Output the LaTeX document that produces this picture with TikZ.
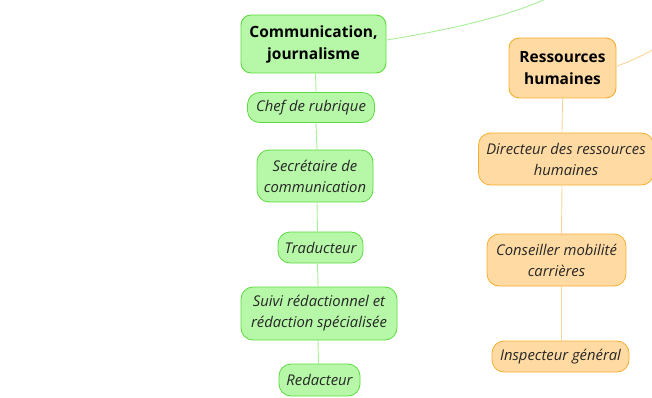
\documentclass[tikz,border=0pt]{standalone}
\usepackage{fontspec}
\setmainfont{Open Sans}
\usetikzlibrary{calc}
\definecolor{jfill}{HTML}{B6F7A8}
\definecolor{jline}{HTML}{5CDB3F}
\definecolor{jlink}{HTML}{A9EE98}
\definecolor{rfill}{HTML}{FFDBA3}
\definecolor{rline}{HTML}{F6AD2F}
\definecolor{rlink}{HTML}{FBD49A}
\tikzset{
  topic/.style={draw, line width=0.9pt, rounded corners=10pt, font=\fontsize{15.5}{22}\selectfont\bfseries, text=black, align=center, inner sep=0pt},
  job/.style={draw, line width=0.8pt, rounded corners=12pt, font=\fontsize{14.8}{21}\selectfont\itshape, text=black!85, align=center, inner sep=0pt},
  green/.style={fill=jfill, draw=jline},
  orange/.style={fill=rfill, draw=rline},
  glink/.style={draw=jlink, line width=0.9pt},
  rlinkst/.style={draw=rlink, line width=0.9pt}
}
\begin{document}
\begin{tikzpicture}[x=1pt,y=-1pt]
  \useasboundingbox (0,0) rectangle (652,398);
  % journalisme
  \node[topic, green, minimum width=145, minimum height=58] (com) at (313.5,44) {Communication,\\journalisme};
  \node[job, green, minimum width=127, minimum height=30] (chef) at (311,107.5) {Chef de rubrique};
  \node[job, green, minimum width=116, minimum height=52] (secr) at (315,176) {Secrétaire de\\communication};
  \node[job, green, minimum width=85, minimum height=31] (trad) at (320.5,247.5) {Traducteur};
  \node[job, green, minimum width=156, minimum height=53] (suivi) at (319,313.5) {Suivi rédactionnel et\\rédaction spécialisée};
  \node[job, green, minimum width=81, minimum height=32] (redac) at (319.5,380) {Redacteur};
  % ressources humaines
  \node[topic, orange, minimum width=107, minimum height=60] (rh) at (562.5,68) {Ressources\\humaines};
  \node[job, orange, minimum width=175, minimum height=52] (dir) at (566,159) {Directeur des ressources\\humaines};
  \node[job, orange, minimum width=139, minimum height=52] (cons) at (556.5,260) {Conseiller mobilité\\carrières};
  \node[job, orange, minimum width=137, minimum height=31] (insp) at (560.5,356.5) {Inspecteur général};
  \coordinate (gout) at (548,-2);
  \coordinate (rout) at (656,48);
  % links
  \draw[glink] (com.east) ++(0,-4) .. controls (430,33) and (500,20) .. (gout);
  \draw[rlinkst] (rh.east) ++(0,-2) .. controls (630,62) and (645,54) .. (rout);
  \draw[glink] ($(com.south)+(2,0)$) -- ($(chef.north)+(5,0)$);
  \draw[glink] ($(chef.south)+(5,0)$) -- ($(secr.north)+(2,0)$);
  \draw[glink] ($(secr.south)+(2,0)$) -- ($(trad.north)+(-3,0)$);
  \draw[glink] ($(trad.south)+(-3,0)$) -- ($(suivi.north)+(-1,0)$);
  \draw[glink] ($(suivi.south)+(-1,0)$) -- ($(redac.north)+(-1,0)$);
  \draw[rlinkst] (rh.south) -- ($(dir.north)+(-4,0)$);
  \draw[rlinkst] ($(dir.south)+(-4,0)$) -- ($(cons.north)+(5,0)$);
  \draw[rlinkst] ($(cons.south)+(5,0)$) -- ($(insp.north)+(1,0)$);
\end{tikzpicture}
\end{document}
